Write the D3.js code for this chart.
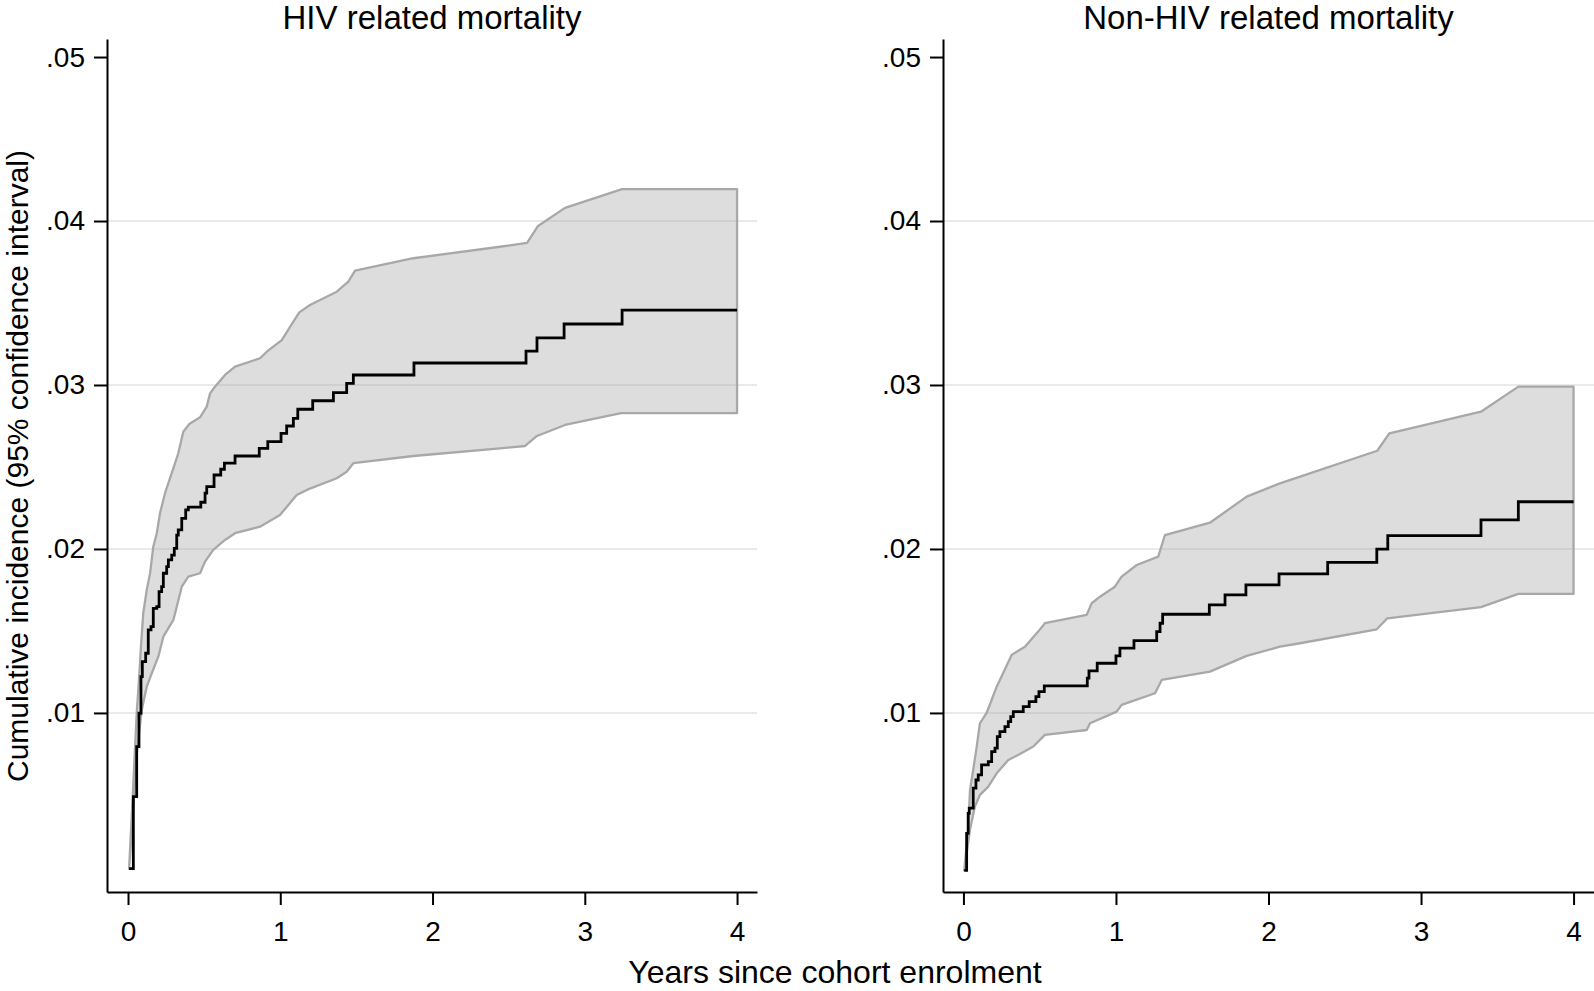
<!DOCTYPE html>
<html>
<head>
<meta charset="utf-8">
<script src="https://cdn.jsdelivr.net/npm/d3@7"></script>
<style>
  html, body { margin: 0; padding: 0; background: #fff; }
  svg { display: block; }
  text { font-family: "Liberation Sans", Arial, Helvetica, sans-serif; fill: #000; }
</style>
</head>
<body>
<svg id="chart" width="1594" height="991"></svg>
<script>
// ---------- data ----------
const panelTitles = ["HIV related mortality", "Non-HIV related mortality"];
const xTicks = [0, 1, 2, 3, 4];
const xTickLabels = ["0", "1", "2", "3", "4"];
const yTicks = [0.01, 0.02, 0.03, 0.04, 0.05];
const yTickLabels = [".01", ".02", ".03", ".04", ".05"];
const gridValues = [0.01, 0.02, 0.03, 0.04];
const xAxisTitle = "Years since cohort enrolment";
const yAxisTitle = "Cumulative incidence (95% confidence interval)";

// HIV related: estimate (step events)
const hivTime = [0.007,0.035,0.057,0.072,0.085,0.094,0.116,0.133,0.151,0.166,0.189,0.204,0.221,0.232,0.254,0.265,0.287,0.304,0.32,0.33,0.353,0.379,0.396,0.478,0.506,0.517,0.565,0.609,0.633,0.703,0.862,0.918,1.005,1.042,1.086,1.115,1.213,1.349,1.436,1.48,1.878,2.614,2.686,2.864,3.245,4.0];
const hivEst  = [0.0005,0.0049,0.00795,0.00998,0.01221,0.01313,0.01364,0.01506,0.01526,0.01638,0.01648,0.0174,0.0177,0.01852,0.01892,0.01933,0.01963,0.02004,0.02085,0.02116,0.02187,0.02238,0.02255,0.02285,0.0234,0.0238,0.02451,0.02486,0.02523,0.02567,0.02614,0.02654,0.02705,0.0275,0.02797,0.02852,0.02904,0.02953,0.0301,0.03061,0.03134,0.03207,0.03287,0.03372,0.03457,0.03457];
// HIV related: upper CI
const hivUpTime = [0.007,0.033,0.057,0.072,0.085,0.1,0.123,0.145,0.166,0.189,0.21,0.243,0.287,0.33,0.363,0.403,0.473,0.517,0.539,0.571,0.637,0.703,0.867,0.911,1.01,1.064,1.125,1.195,1.371,1.447,1.491,1.874,2.443,2.621,2.693,2.87,3.245,4.0];
const hivUp     = [0.0005,0.0053,0.00998,0.01201,0.01404,0.01608,0.0175,0.01852,0.02014,0.02096,0.02218,0.0234,0.02462,0.02583,0.02715,0.02762,0.02803,0.02868,0.02949,0.0299,0.03061,0.03112,0.03163,0.03203,0.03274,0.03355,0.03443,0.03488,0.03569,0.0363,0.03697,0.03773,0.03843,0.03866,0.0397,0.0408,0.04195,0.04195];
// HIV related: lower CI
const hivLoTime = [0.007,0.026,0.053,0.09,0.123,0.156,0.199,0.232,0.298,0.32,0.353,0.396,0.473,0.506,0.56,0.637,0.703,0.867,0.998,1.108,1.174,1.371,1.436,1.48,1.874,2.443,2.608,2.686,2.87,3.238,4.0];
const hivLo     = [0.0005,0.0029,0.0071,0.01018,0.0116,0.01242,0.01343,0.01465,0.01567,0.01648,0.0177,0.01831,0.01852,0.01923,0.01994,0.02055,0.02096,0.02136,0.02207,0.02329,0.0236,0.02431,0.02471,0.02523,0.02567,0.02614,0.02628,0.02689,0.02756,0.02829,0.02829];

// Non-HIV related: estimate (step events)
const nonTime = [0.005,0.021,0.031,0.038,0.064,0.082,0.097,0.119,0.163,0.185,0.207,0.222,0.239,0.272,0.294,0.31,0.327,0.392,0.431,0.475,0.495,0.53,0.812,0.823,0.877,1.0,1.026,1.118,1.267,1.289,1.306,1.612,1.715,1.852,2.069,2.388,2.71,2.782,3.393,3.638,4.0];
const nonEst  = [0.0004,0.00266,0.00388,0.00419,0.00541,0.00591,0.00622,0.00683,0.00703,0.00764,0.00785,0.00855,0.00886,0.00916,0.00947,0.00977,0.01008,0.01038,0.01069,0.01099,0.0113,0.01165,0.01212,0.01256,0.01303,0.01348,0.01395,0.01441,0.01496,0.01547,0.01602,0.01659,0.0172,0.01781,0.01848,0.01918,0.01999,0.02081,0.02177,0.02288,0.02288];
// Non-HIV related: upper CI
const nonUpTime = [0.005,0.031,0.043,0.064,0.087,0.108,0.152,0.185,0.218,0.239,0.316,0.403,0.49,0.534,0.808,0.841,0.895,0.993,1.037,1.136,1.277,1.321,1.616,1.857,2.075,2.207,2.713,2.792,3.393,3.638,4.0];
const nonUp     = [0.0004,0.00287,0.0053,0.00652,0.00795,0.00937,0.01,0.01079,0.0116,0.01201,0.01354,0.01404,0.01496,0.01547,0.01598,0.01669,0.01709,0.0177,0.01831,0.01902,0.01953,0.02085,0.0216,0.02319,0.024,0.02441,0.02599,0.02705,0.02837,0.0299,0.0299];
// Non-HIV related: lower CI
const nonLoTime = [0.005,0.043,0.075,0.108,0.163,0.218,0.294,0.359,0.458,0.534,0.808,0.83,1.005,1.037,1.256,1.3,1.616,1.857,2.075,2.207,2.71,2.779,3.393,3.638,4.0];
const nonLo     = [0.0004,0.00287,0.00429,0.005,0.00551,0.00632,0.00713,0.00744,0.00795,0.00866,0.00896,0.00937,0.01008,0.01049,0.0112,0.01201,0.01252,0.01348,0.01404,0.01425,0.0151,0.01577,0.01645,0.01726,0.01726];

// ---------- drawing ----------
const svg = d3.select("#chart");
const y = d3.scaleLinear().domain([-0.00092, 0.0511]).range([892, 39]);

const panels = [
  { title: panelTitles[0], x: d3.scaleLinear().domain([-0.138, 4.131]).range([107, 757]),
    est: [hivTime, hivEst], up: [hivUpTime, hivUp], lo: [hivLoTime, hivLo] },
  { title: panelTitles[1], x: d3.scaleLinear().domain([-0.134, 4.134]).range([943, 1594]),
    est: [nonTime, nonEst], up: [nonUpTime, nonUp], lo: [nonLoTime, nonLo] }
];

const zip = (a, b) => a.map((d, i) => [d, b[i]]);

panels.forEach(p => {
  const g = svg.append("g");
  const [x0, x1] = p.x.range();

  // gridlines
  g.selectAll("line.grid").data(gridValues).enter().append("line")
    .attr("x1", x0).attr("x2", x1)
    .attr("y1", d => y(d)).attr("y2", d => y(d))
    .attr("stroke", "#eaeaea").attr("stroke-width", 2);

  // CI band polygon
  const poly = zip(p.up[0], p.up[1]).concat(zip(p.lo[0], p.lo[1]).reverse());
  const bandLine = d3.line().x(d => p.x(d[0])).y(d => y(d[1])).curve(d3.curveLinearClosed);
  g.append("path").attr("d", bandLine(poly))
    .attr("fill", "#9a9a9a").attr("fill-opacity", 0.34)
    .attr("stroke", "#a8a8a8").attr("stroke-width", 2.3).attr("stroke-linejoin", "round");

  // estimate step line
  const stepLine = d3.line().x(d => p.x(d[0])).y(d => y(d[1])).curve(d3.curveStepAfter);
  g.append("path").attr("d", stepLine(zip(p.est[0], p.est[1])))
    .attr("fill", "none").attr("stroke", "#000").attr("stroke-width", 2.8)
    .attr("stroke-linejoin", "miter");

  // axes
  const xAxis = d3.axisBottom(p.x).tickValues(xTicks)
    .tickFormat((d, i) => xTickLabels[i]).tickSize(13).tickSizeOuter(0).tickPadding(16);
  const gx = g.append("g").attr("transform", "translate(0,892)").call(xAxis);
  gx.selectAll("text").style("font-size", "28px");

  const yAxis = d3.axisLeft(y).tickValues(yTicks)
    .tickFormat((d, i) => yTickLabels[i]).tickSize(13).tickSizeOuter(0).tickPadding(9);
  const gy = g.append("g").attr("transform", `translate(${x0},0)`).call(yAxis);
  gy.selectAll("text").style("font-size", "28px");

  [gx, gy].forEach(a => {
    a.select(".domain").attr("stroke", "#000").attr("stroke-width", 2);
    a.selectAll(".tick line").attr("stroke", "#000").attr("stroke-width", 2);
  });

  // title
  svg.append("text").attr("x", (x0 + x1) / 2).attr("y", 29)
    .attr("text-anchor", "middle").style("font-size", "33px").text(p.title);
});

// axis titles
svg.append("text").attr("x", 835).attr("y", 983).attr("text-anchor", "middle")
  .style("font-size", "32px").text(xAxisTitle);
svg.append("text").attr("transform", "translate(28,466) rotate(-90)")
  .attr("text-anchor", "middle").style("font-size", "30px").text(yAxisTitle);
</script>
</body>
</html>
